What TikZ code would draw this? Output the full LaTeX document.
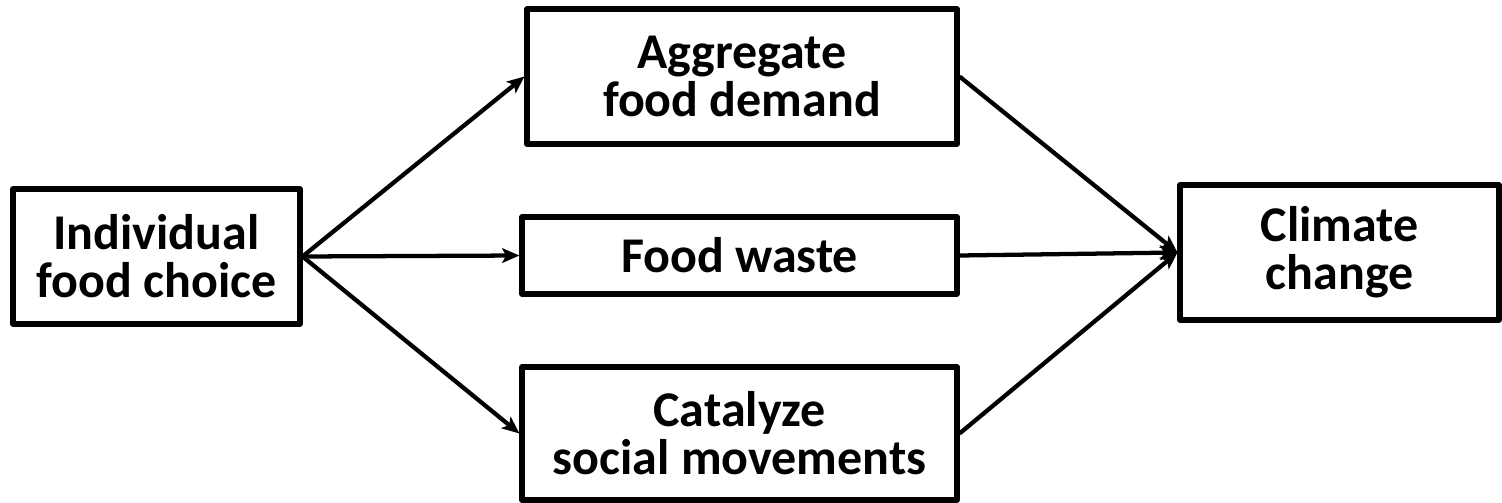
\documentclass[tikz,border=0pt]{standalone}
\usepackage{fontspec}
\setmainfont{Carlito}
\usetikzlibrary{arrows.meta}
\begin{document}
\begin{tikzpicture}[x=0.75pt,y=-0.75pt,
  box/.style={draw, line width=3.8pt, line join=round, rectangle, inner sep=0pt, align=center,
    font=\fontsize{37.5}{36}\selectfont\bfseries},
  conn/.style={line width=3.2pt, -{Stealth[length=13pt,width=11pt,inset=3pt]}}]
\useasboundingbox (0,0) rectangle (1502,503);
\node[box, minimum width=287*0.75pt, minimum height=135*0.75pt] (ind) at (156.5,256.5) {Individual\\food choice};
\node[box, minimum width=430*0.75pt, minimum height=135*0.75pt] (agg) at (742,76.5) {Aggregate\\food demand};
\node[box, minimum width=435*0.75pt, minimum height=77*0.75pt] (fw) at (739.5,255.5) {Food waste};
\node[box, minimum width=435*0.75pt, minimum height=133*0.75pt] (cat) at (739.5,433.5) {Catalyze\\social movements};
\node[box, minimum width=319*0.75pt, minimum height=135*0.75pt] (cc) at (1339.5,252.5) {Climate\\change};
\draw[conn] (ind.east) -- (agg.west);
\draw[conn] (ind.east) -- (fw.west);
\draw[conn] (ind.east) -- (cat.west);
\draw[conn] (agg.east) -- (cc.west);
\draw[conn] (fw.east) -- (cc.west);
\draw[conn] (cat.east) -- (cc.west);
\end{tikzpicture}
\end{document}
